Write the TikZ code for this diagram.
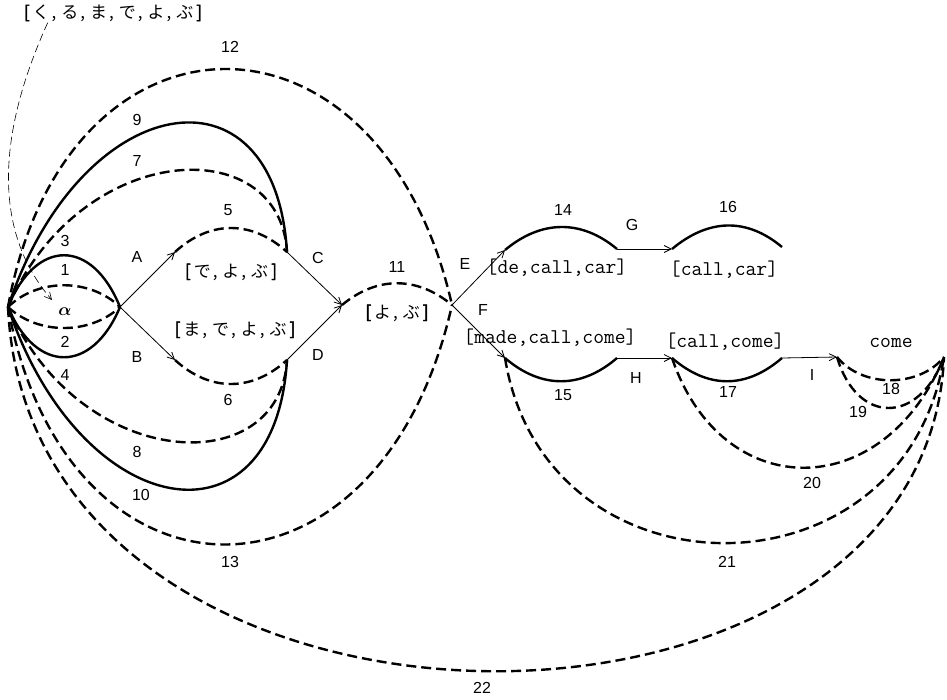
\documentclass[tikz,border=0pt]{standalone}
\usepackage{fontspec}
\setmainfont{Liberation Sans}
\newfontfamily\jpfont[AutoFakeBold=2.5]{Noto Sans CJK JP}
\usetikzlibrary{arrows.meta}
\newcommand{\jsep}{\kern2pt,\kern5pt}
\newcommand{\jl}{{\bfseries[}\kern3pt}
\newcommand{\jr}{\kern3pt{\bfseries]}}

\begin{document}
\begin{tikzpicture}[x=1pt, y=-1pt, >={Straight Barb[length=7pt,width=7pt]}]
    \tikzstyle{solidarc}=[line width=2.4pt]
    \tikzstyle{dasharc}=[line width=2.4pt, dash pattern=on 10pt off 5pt]
    \tikzstyle{link}=[->, line width=0.8pt]
    \tikzstyle{pointer}=[->, line width=0.6pt, dash pattern=on 8pt off 4pt]
    \tikzstyle{num}=[font=\fontsize{16}{18}\selectfont, inner sep=1pt]
    \tikzstyle{kana}=[font=\jpfont\fontsize{17}{19}\selectfont, inner sep=1pt]
    \tikzstyle{word}=[font=\ttfamily\fontsize{21}{23}\selectfont, inner sep=1pt]
    \useasboundingbox (0,0) rectangle (947,699);

    % lattice points
    \coordinate (o) at (8,307);
    \coordinate (p1) at (120,307);
    \coordinate (a) at (175,252);
    \coordinate (c) at (287,252);
    \coordinate (b) at (175,360);
    \coordinate (d) at (287,360);
    \coordinate (yobu) at (342,305);
    \coordinate (e) at (452,305);
    \coordinate (de) at (505,250);
    \coordinate (g) at (617,249);
    \coordinate (callcar) at (672,249);
    \coordinate (carend) at (782,247);
    \coordinate (made) at (505,358);
    \coordinate (h) at (617,358);
    \coordinate (callcome) at (672,358);
    \coordinate (i) at (782,358);
    \coordinate (come) at (837,357);
    \coordinate (t) at (944,357);
    \coordinate (ptr) at (52,300);

    % arcs
    \draw[dasharc] (o) .. controls +(30,-29) and +(-30,-29) .. (p1);
    \draw[solidarc] (o) .. controls +(28,-69) and +(-28,-69) .. (p1);
    \draw[dasharc] (o) .. controls +(30,28) and +(-30,28) .. (p1);
    \draw[solidarc] (o) .. controls +(28,67) and +(-28,67) .. (p1);
    \draw[dasharc] (a) .. controls +(35,-32) and +(-35,-32) .. (c);
    \draw[dasharc] (b) .. controls +(35,32) and +(-35,32) .. (d);
    \draw[dasharc] (o) .. controls (80,140) and (280,130) .. (c);
    \draw[solidarc] (o) .. controls (80,90) and (275,55) .. (c);
    \draw[dasharc] (o) .. controls (80,472) and (280,482) .. (d);
    \draw[solidarc] (o) .. controls (80,522) and (275,557) .. (d);
    \draw[dasharc] (o) .. controls (65,-8) and (380,-12) .. (e);
    \draw[dasharc] (o) .. controls (65,622) and (380,626) .. (e);
    \draw[dasharc] (yobu) .. controls +(35,-29) and +(-35,-29) .. (e);
    \draw[solidarc] (de) .. controls +(36,-30) and +(-36,-30) .. (g);
    \draw[solidarc] (callcar) .. controls +(36,-30) and +(-36,-30) .. (carend);
    \draw[solidarc] (made) .. controls +(36,31) and +(-36,31) .. (h);
    \draw[solidarc] (callcome) .. controls +(36,31) and +(-36,31) .. (i);
    \draw[dasharc] (come) .. controls +(25,31) and +(-25,31) .. (t);
    \draw[dasharc] (come) .. controls +(20,68) and +(-25,68) .. (t);
    \draw[dasharc] (callcome) .. controls +(50,147) and +(-60,147) .. (t);
    \draw[dasharc] (made) .. controls (545,605) and (905,605) .. (t);
    \draw[dasharc] (o) .. controls (30,784) and (925,784) .. (t);

    % transitions
    \draw[link] (p1) -- (a);
    \draw[link] (p1) -- (b);
    \draw[link] (c) -- (yobu);
    \draw[link] (d) -- (yobu);
    \draw[link] (e) -- (de);
    \draw[link] (e) -- (made);
    \draw[link] (g) -- (callcar);
    \draw[link] (h) -- (callcome);
    \draw[link] (i) -- (come);

    % labels
    \node[kana] (kuru) at (113,13) {\jl く\jsep る\jsep ま\jsep で\jsep よ\jsep ぶ\jr};
    \node[kana] (deyobuL) at (231,272) {\jl で\jsep よ\jsep ぶ\jr};
    \node[kana] (madeyobuL) at (235,330) {\jl ま\jsep で\jsep よ\jsep ぶ\jr};
    \node[kana] (yobuL) at (397,313) {\jl よ\jsep ぶ\jr};
    \node[word] (decallcarL) at (557,268) {[de,call,car]};
    \node[word] (callcarL) at (724,270) {[call,car]};
    \node[word] (madecallcomeL) at (550,338) {[made,call,come]};
    \node[word] (callcomeL) at (725,342) {[call,come]};
    \node[word] (comeL) at (891,343) {come};
    \node[font=\fontsize{16}{18}\selectfont\boldmath] (alphaL) at (65,312) {$\alpha$};

    \node[num] (n1) at (65,270) {1};
    \node[num] (n2) at (65,342) {2};
    \node[num] (n3) at (65,241) {3};
    \node[num] (n4) at (65,375) {4};
    \node[num] (n5) at (228,210) {5};
    \node[num] (n6) at (228,400) {6};
    \node[num] (n7) at (137,161) {7};
    \node[num] (n8) at (137,452) {8};
    \node[num] (n9) at (137,120) {9};
    \node[num] (n10) at (141,495) {10};
    \node[num] (n11) at (397,267) {11};
    \node[num] (n12) at (230,47) {12};
    \node[num] (n13) at (230,562) {13};
    \node[num] (n14) at (563,210) {14};
    \node[num] (n15) at (563,395) {15};
    \node[num] (n16) at (728,207) {16};
    \node[num] (n17) at (728,392) {17};
    \node[num] (n18) at (891,389) {18};
    \node[num] (n19) at (858,412) {19};
    \node[num] (n20) at (812,483) {20};
    \node[num] (n21) at (727,562) {21};
    \node[num] (n22) at (482,688) {22};
    \node[num] (lA) at (137,257) {A};
    \node[num] (lB) at (137,357) {B};
    \node[num] (lC) at (318,258) {C};
    \node[num] (lD) at (318,355) {D};
    \node[num] (lE) at (465,264) {E};
    \node[num] (lF) at (483,310) {F};
    \node[num] (lG) at (632,225) {G};
    \node[num] (lH) at (636,378) {H};
    \node[num] (lI) at (812,375) {I};

    \draw[pointer] ([xshift=25pt]kuru.south west) .. controls (-10,150) and (0,240) .. (ptr);
\end{tikzpicture}
\end{document}
